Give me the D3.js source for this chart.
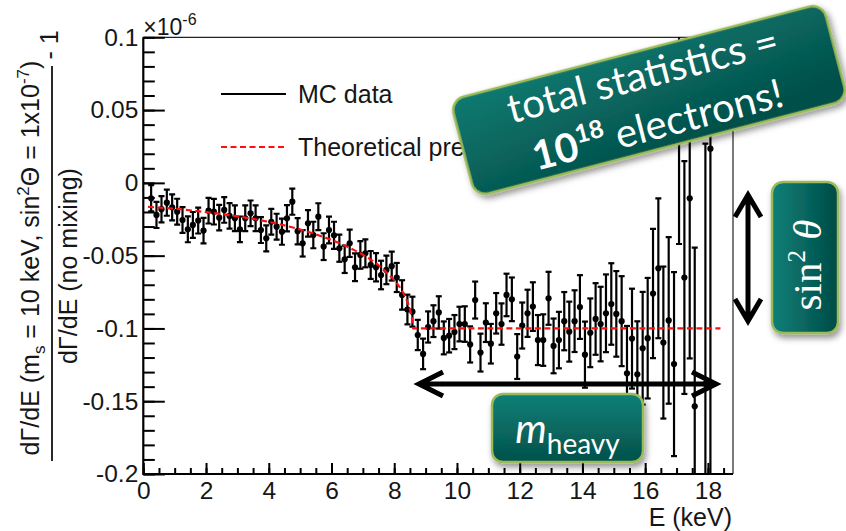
<!DOCTYPE html>
<html>
<head>
<meta charset="utf-8">
<script src="https://cdn.jsdelivr.net/npm/d3@7"></script>
<style>
  html, body { margin: 0; padding: 0; background: #fff; }
  svg { display: block; }
</style>
</head>
<body>
<svg id="chart" width="846" height="531"></svg>
<script>
// Simulated spectrum ratio: bin centres (keV), ratio - 1 (units of 1e-6) and statistical errors
const energies = [
  0.25, 0.42, 0.58, 0.75, 0.92, 1.08, 1.25, 1.42, 1.58, 1.75,
  1.92, 2.08, 2.25, 2.42, 2.58, 2.75, 2.92, 3.08, 3.25, 3.42,
  3.58, 3.75, 3.92, 4.08, 4.25, 4.42, 4.58, 4.75, 4.92, 5.08,
  5.25, 5.42, 5.58, 5.75, 5.92, 6.08, 6.25, 6.42, 6.58, 6.75,
  6.92, 7.08, 7.25, 7.42, 7.58, 7.75, 7.92, 8.08, 8.25, 8.42,
  8.58, 8.75, 8.92, 9.08, 9.25, 9.42, 9.58, 9.75, 9.92, 10.08,
  10.25, 10.42, 10.58, 10.75, 10.92, 11.08, 11.25, 11.42, 11.58, 11.75,
  11.92, 12.08, 12.25, 12.42, 12.58, 12.75, 12.92, 13.08, 13.25, 13.42,
  13.58, 13.75, 13.92, 14.08, 14.25, 14.42, 14.58, 14.75, 14.92, 15.08,
  15.25, 15.42, 15.58, 15.75, 15.92, 16.08, 16.25, 16.42, 16.58, 16.75,
  16.92, 17.08, 17.25, 17.42, 17.58, 17.92, 18.08
];
const ratios = [
  -0.0106, -0.0220, -0.0181, -0.0136, -0.0168, -0.0198, -0.0255, -0.0319, -0.0289, -0.0259,
  -0.0328, -0.0191, -0.0198, -0.0239, -0.0186, -0.0227, -0.0243, -0.0319, -0.0243, -0.0209,
  -0.0243, -0.0324, -0.0381, -0.0267, -0.0301, -0.0335, -0.0243, -0.0129, -0.0332, -0.0415,
  -0.0278, -0.0358, -0.0232, -0.0438, -0.0324, -0.0360, -0.0449, -0.0525, -0.0415, -0.0580,
  -0.0495, -0.0484, -0.0564, -0.0580, -0.0633, -0.0598, -0.0572, -0.0650, -0.0770, -0.0870,
  -0.0885, -0.1045, -0.1175, -0.0990, -0.0950, -0.0890, -0.1065, -0.1050, -0.1025, -0.0970,
  -0.0970, -0.1110, -0.0805, -0.1166, -0.0960, -0.1105, -0.0896, -0.0970, -0.0770, -0.0800,
  -0.1193, -0.0980, -0.0896, -0.0850, -0.1080, -0.1080, -0.0793, -0.1120, -0.1080, -0.0950,
  -0.1022, -0.0950, -0.0853, -0.1180, -0.1030, -0.0935, -0.0970, -0.0896, -0.0832, -0.0900,
  -0.0950, -0.1308, -0.1070, -0.1315, -0.1136, -0.1067, -0.0760, -0.0587, -0.1097, -0.0945,
  -0.1245, 0.0450, -0.0650, -0.0106, -0.1535, -0.1380, 0.0235
];
const errors = [
  0.0090, 0.0090, 0.0090, 0.0090, 0.0089, 0.0089, 0.0089, 0.0089, 0.0089, 0.0089,
  0.0088, 0.0088, 0.0088, 0.0088, 0.0088, 0.0088, 0.0088, 0.0088, 0.0088, 0.0088,
  0.0089, 0.0089, 0.0089, 0.0089, 0.0089, 0.0090, 0.0090, 0.0090, 0.0090, 0.0091,
  0.0091, 0.0091, 0.0092, 0.0092, 0.0092, 0.0093, 0.0093, 0.0094, 0.0094, 0.0095,
  0.0095, 0.0096, 0.0096, 0.0097, 0.0098, 0.0098, 0.0099, 0.0100, 0.0101, 0.0102,
  0.0103, 0.0104, 0.0105, 0.0107, 0.0109, 0.0111, 0.0113, 0.0115, 0.0117, 0.0119,
  0.0122, 0.0124, 0.0127, 0.0130, 0.0133, 0.0136, 0.0139, 0.0142, 0.0146, 0.0150,
  0.0154, 0.0158, 0.0162, 0.0167, 0.0172, 0.0177, 0.0182, 0.0188, 0.0194, 0.0200,
  0.0206, 0.0212, 0.0219, 0.0227, 0.0236, 0.0246, 0.0256, 0.0267, 0.0280, 0.0294,
  0.0309, 0.0325, 0.0343, 0.0364, 0.0387, 0.0414, 0.0444, 0.0480, 0.0522, 0.0572,
  0.0632, 0.0870, 0.0800, 0.1100, 0.1090, 0.1650, 0.2500
];

// Theoretical prediction sampled along the curve
const theoryE = [0.15, 1, 2, 3, 4, 5, 5.5, 6, 6.5, 7, 7.5, 7.8, 8.0, 8.2, 8.35, 8.45, 8.52, 8.57, 8.6, 18.4];
const theoryR = [-0.0165, -0.0178, -0.0201, -0.0230, -0.0268, -0.0320, -0.0353, -0.0393, -0.0438, -0.0494,
                 -0.0566, -0.0625, -0.0668, -0.0725, -0.0782, -0.0835, -0.0885, -0.0935, -0.1000, -0.1000];

// Axis ticks and labels
const xTicks = [0, 2, 4, 6, 8, 10, 12, 14, 16, 18];
const yTicks = [0.1, 0.05, 0, -0.05, -0.1, -0.15, -0.2];
const yTickLabels = ["0.1", "0.05", "0", "-0.05", "-0.1", "-0.15", "-0.2"];
const legendLabels = ["MC data", "Theoretical prediction"];

const svg = d3.select("#chart");
const W = 846, H = 531;
svg.append("rect").attr("width", W).attr("height", H).attr("fill", "#fff");

const plot = { left: 143.3, right: 733, top: 37.3, bottom: 474 };
const x = d3.scaleLinear().domain([0, 18.8]).range([plot.left, plot.right]);
const y = d3.scaleLinear().domain([-0.2, 0.1]).range([plot.bottom, plot.top]);

const FONT = "'Liberation Sans', Arial, Helvetica, sans-serif";
const TXT = "#161616";

const defs = svg.append("defs");
defs.append("clipPath").attr("id", "plotClip")
  .append("rect")
  .attr("x", plot.left).attr("y", plot.top)
  .attr("width", plot.right - plot.left).attr("height", plot.bottom - plot.top);

const shadow = defs.append("filter").attr("id", "shadow")
  .attr("x", "-20%").attr("y", "-20%").attr("width", "140%").attr("height", "150%");
shadow.append("feDropShadow").attr("dx", 2).attr("dy", 4).attr("stdDeviation", 3)
  .attr("flood-color", "#000").attr("flood-opacity", 0.42);

function gradient(id, x1, y1, x2, y2, c1, c2) {
  const g = defs.append("linearGradient").attr("id", id)
    .attr("x1", x1).attr("y1", y1).attr("x2", x2).attr("y2", y2);
  g.append("stop").attr("offset", "0%").attr("stop-color", c1);
  g.append("stop").attr("offset", "100%").attr("stop-color", c2);
}
gradient("gradStats", 0, 0, 0.6, 1, "#0b7a71", "#04504a");
gradient("gradSin", 0, 0, 1, 0, "#0b8078", "#034b46");
gradient("gradM", 0, 0, 0, 1, "#0a8077", "#05514b");

// ---- frame ----
svg.append("path")
  .attr("d", `M${plot.left},${plot.top}H${plot.right}V${plot.bottom}`)
  .attr("fill", "none").attr("stroke", "#222").attr("stroke-width", 1.2);

// ---- y axis ----
const yMinor = svg.append("g").attr("transform", `translate(${plot.left},0)`)
  .call(d3.axisLeft(y).ticks(30).tickSize(-11.5).tickFormat(""));
yMinor.select(".domain").remove();
yMinor.selectAll("line").attr("stroke", "#000").attr("stroke-width", 2);

const yAxis = svg.append("g").attr("transform", `translate(${plot.left},0)`)
  .call(d3.axisLeft(y).tickValues(yTicks).tickSize(-21.5).tickPadding(5)
    .tickFormat((d, i) => yTickLabels[i]));
yAxis.select(".domain").remove();
yAxis.selectAll("line").attr("stroke", "#000").attr("stroke-width", 2);
yAxis.selectAll("text").attr("font-family", FONT).attr("font-size", 24.5).attr("fill", TXT);

// ---- x axis ----
const xMinor = svg.append("g").attr("transform", `translate(0,${plot.bottom})`)
  .call(d3.axisBottom(x).tickValues(d3.range(0, 18.6, 0.5)).tickSize(-6).tickFormat(""));
xMinor.select(".domain").remove();
xMinor.selectAll("line").attr("stroke", "#000").attr("stroke-width", 2);

const xAxis = svg.append("g").attr("transform", `translate(0,${plot.bottom})`)
  .call(d3.axisBottom(x).tickValues(xTicks).tickSize(-11).tickPadding(8).tickFormat(d => String(d)));
xAxis.select(".domain").remove();
xAxis.selectAll("line").attr("stroke", "#000").attr("stroke-width", 2);
xAxis.selectAll("text").attr("font-family", FONT).attr("font-size", 24.5).attr("fill", TXT);

// axis lines on the left and bottom
svg.append("path")
  .attr("d", `M${plot.left},${plot.top}V${plot.bottom}H${plot.right}`)
  .attr("fill", "none").attr("stroke", "#000").attr("stroke-width", 2.2);

// exponent above the y axis
const expo = svg.append("text").attr("x", plot.left).attr("y", 35)
  .attr("font-family", FONT).attr("font-size", 23).attr("fill", TXT);
expo.append("tspan").text("\u00d710");
expo.append("tspan").attr("font-size", 16).attr("dy", -10).text("-6");

// x title
svg.append("text").attr("x", 732).attr("y", 526).attr("text-anchor", "end")
  .attr("font-family", FONT).attr("font-size", 25).attr("fill", TXT).text("E (keV)");

// y title: ratio of spectra minus one
const num = svg.append("text").attr("transform", "translate(39,258) rotate(-90)")
  .attr("text-anchor", "middle").attr("font-family", FONT).attr("font-size", 25).attr("fill", TXT);
num.append("tspan").text("d\u0393/dE (m");
num.append("tspan").attr("font-size", 17).attr("dy", 6).text("s");
num.append("tspan").attr("dy", -6).text(" = 10 keV, sin");
num.append("tspan").attr("font-size", 17).attr("dy", -10).text("2");
num.append("tspan").attr("dy", 10).text("\u0398 = 1x10");
num.append("tspan").attr("font-size", 17).attr("dy", -10).text("-7");
num.append("tspan").attr("dy", 10).text(")");

svg.append("text").attr("transform", "translate(77,266) rotate(-90)")
  .attr("text-anchor", "middle").attr("font-family", FONT).attr("font-size", 25).attr("fill", TXT)
  .text("d\u0393/dE (no mixing)");

svg.append("line").attr("x1", 52).attr("x2", 52).attr("y1", 66).attr("y2", 461)
  .attr("stroke", "#111").attr("stroke-width", 1.8);

svg.append("text").attr("transform", "translate(58,45) rotate(-90)")
  .attr("text-anchor", "middle").attr("font-family", FONT).attr("font-size", 25).attr("fill", TXT)
  .text("- 1");

// ---- data ----
const points = energies.map((e, i) => ({ e, r: ratios[i], err: errors[i] }));
const dataG = svg.append("g").attr("clip-path", "url(#plotClip)");
const cap = 3;

dataG.selectAll("line.bar").data(points).join("line").attr("class", "bar")
  .attr("x1", d => x(d.e)).attr("x2", d => x(d.e))
  .attr("y1", d => y(d.r + d.err)).attr("y2", d => y(d.r - d.err))
  .attr("stroke", "#000").attr("stroke-width", 2.2);
dataG.selectAll("line.capTop").data(points).join("line").attr("class", "capTop")
  .attr("x1", d => x(d.e) - cap).attr("x2", d => x(d.e) + cap)
  .attr("y1", d => y(d.r + d.err)).attr("y2", d => y(d.r + d.err))
  .attr("stroke", "#000").attr("stroke-width", 2.2);
dataG.selectAll("line.capBot").data(points).join("line").attr("class", "capBot")
  .attr("x1", d => x(d.e) - cap).attr("x2", d => x(d.e) + cap)
  .attr("y1", d => y(d.r - d.err)).attr("y2", d => y(d.r - d.err))
  .attr("stroke", "#000").attr("stroke-width", 2.2);
dataG.selectAll("circle").data(points).join("circle")
  .attr("cx", d => x(d.e)).attr("cy", d => y(d.r)).attr("r", 3.1).attr("fill", "#000");

// theory curve
const theory = theoryE.map((e, i) => ({ e, r: theoryR[i] }));
dataG.append("path").datum(theory)
  .attr("d", d3.line().x(d => x(d.e)).y(d => y(d.r)).curve(d3.curveMonotoneX))
  .attr("fill", "none").attr("stroke", "#ff1010").attr("stroke-width", 2.2)
  .attr("stroke-dasharray", "6,3.5");

// ---- legend ----
svg.append("line").attr("x1", 221).attr("x2", 286).attr("y1", 94).attr("y2", 94)
  .attr("stroke", "#000").attr("stroke-width", 2.2);
svg.append("text").attr("x", 298).attr("y", 103)
  .attr("font-family", FONT).attr("font-size", 25).attr("fill", TXT).text(legendLabels[0]);
svg.append("line").attr("x1", 221).attr("x2", 286).attr("y1", 147).attr("y2", 147)
  .attr("stroke", "#ff1010").attr("stroke-width", 2.2).attr("stroke-dasharray", "6,3.5");
svg.append("text").attr("x", 298).attr("y", 156)
  .attr("font-family", FONT).attr("font-size", 25).attr("fill", TXT).text(legendLabels[1]);

// ---- annotations ----
const BOXFONT = "Lato, 'Open Sans', sans-serif";
const arrowStyle = sel => sel.attr("fill", "none").attr("stroke", "#000")
  .attr("stroke-width", 5).attr("stroke-linejoin", "miter").attr("stroke-linecap", "butt");

// mass range arrow
svg.append("path").call(arrowStyle)
  .attr("d", "M420,384H715 M443,372L419,384L443,396 M692,372L716,384L692,396");
// mixing amplitude arrow
svg.append("path").call(arrowStyle)
  .attr("d", "M748,196V320 M735,217L748,195L761,217 M735,299L748,321L761,299");

// m_heavy label box
svg.append("rect").attr("x", 492).attr("y", 394).attr("width", 151).attr("height", 68).attr("rx", 11)
  .attr("fill", "url(#gradM)").attr("stroke", "#9bbb59").attr("stroke-width", 2.5)
  .attr("filter", "url(#shadow)");
const mt = svg.append("text").attr("x", 567.5).attr("y", 443).attr("text-anchor", "middle")
  .attr("font-family", BOXFONT).attr("fill", "#fff");
mt.append("tspan").attr("font-size", 40).attr("font-style", "italic").text("m");
mt.append("tspan").attr("font-size", 28).attr("dy", 11).text("heavy");

// sin^2 theta label box
svg.append("rect").attr("x", 772).attr("y", 182).attr("width", 66).attr("height", 151).attr("rx", 11)
  .attr("fill", "url(#gradSin)").attr("stroke", "#9bbb59").attr("stroke-width", 2.5)
  .attr("filter", "url(#shadow)");
const st = svg.append("text").attr("transform", "translate(821,265) rotate(-90)")
  .attr("text-anchor", "middle").attr("font-family", "'Liberation Serif', 'DejaVu Serif', serif")
  .attr("font-size", 41).attr("fill", "#fff");
st.append("tspan").text("sin");
st.append("tspan").attr("font-size", 25).attr("dy", -16).text("2");
st.append("tspan").attr("dy", 16).text(" ");
st.append("tspan").attr("font-style", "italic").text("\u03b8");

// total statistics banner
const banner = svg.append("g").attr("transform", "translate(649,100) rotate(-14.6)");
banner.append("rect").attr("x", -192.5).attr("y", -50).attr("width", 385).attr("height", 100).attr("rx", 14)
  .attr("fill", "url(#gradStats)").attr("stroke", "#9bbb59").attr("stroke-width", 2.5)
  .attr("filter", "url(#shadow)");
banner.append("text").attr("x", 0).attr("y", -12).attr("text-anchor", "middle")
  .attr("font-family", BOXFONT).attr("font-size", 40).attr("fill", "#fff")
  .text("total statistics =");
const l2 = banner.append("text").attr("x", 2).attr("y", 40).attr("text-anchor", "middle")
  .attr("font-family", BOXFONT).attr("font-size", 40).attr("fill", "#fff");
l2.append("tspan").attr("font-weight", "bold").text("10");
l2.append("tspan").attr("font-size", 25).attr("font-weight", "bold").attr("dy", -16).text("18");
l2.append("tspan").attr("dy", 16).text(" electrons!");
</script>
</body>
</html>
